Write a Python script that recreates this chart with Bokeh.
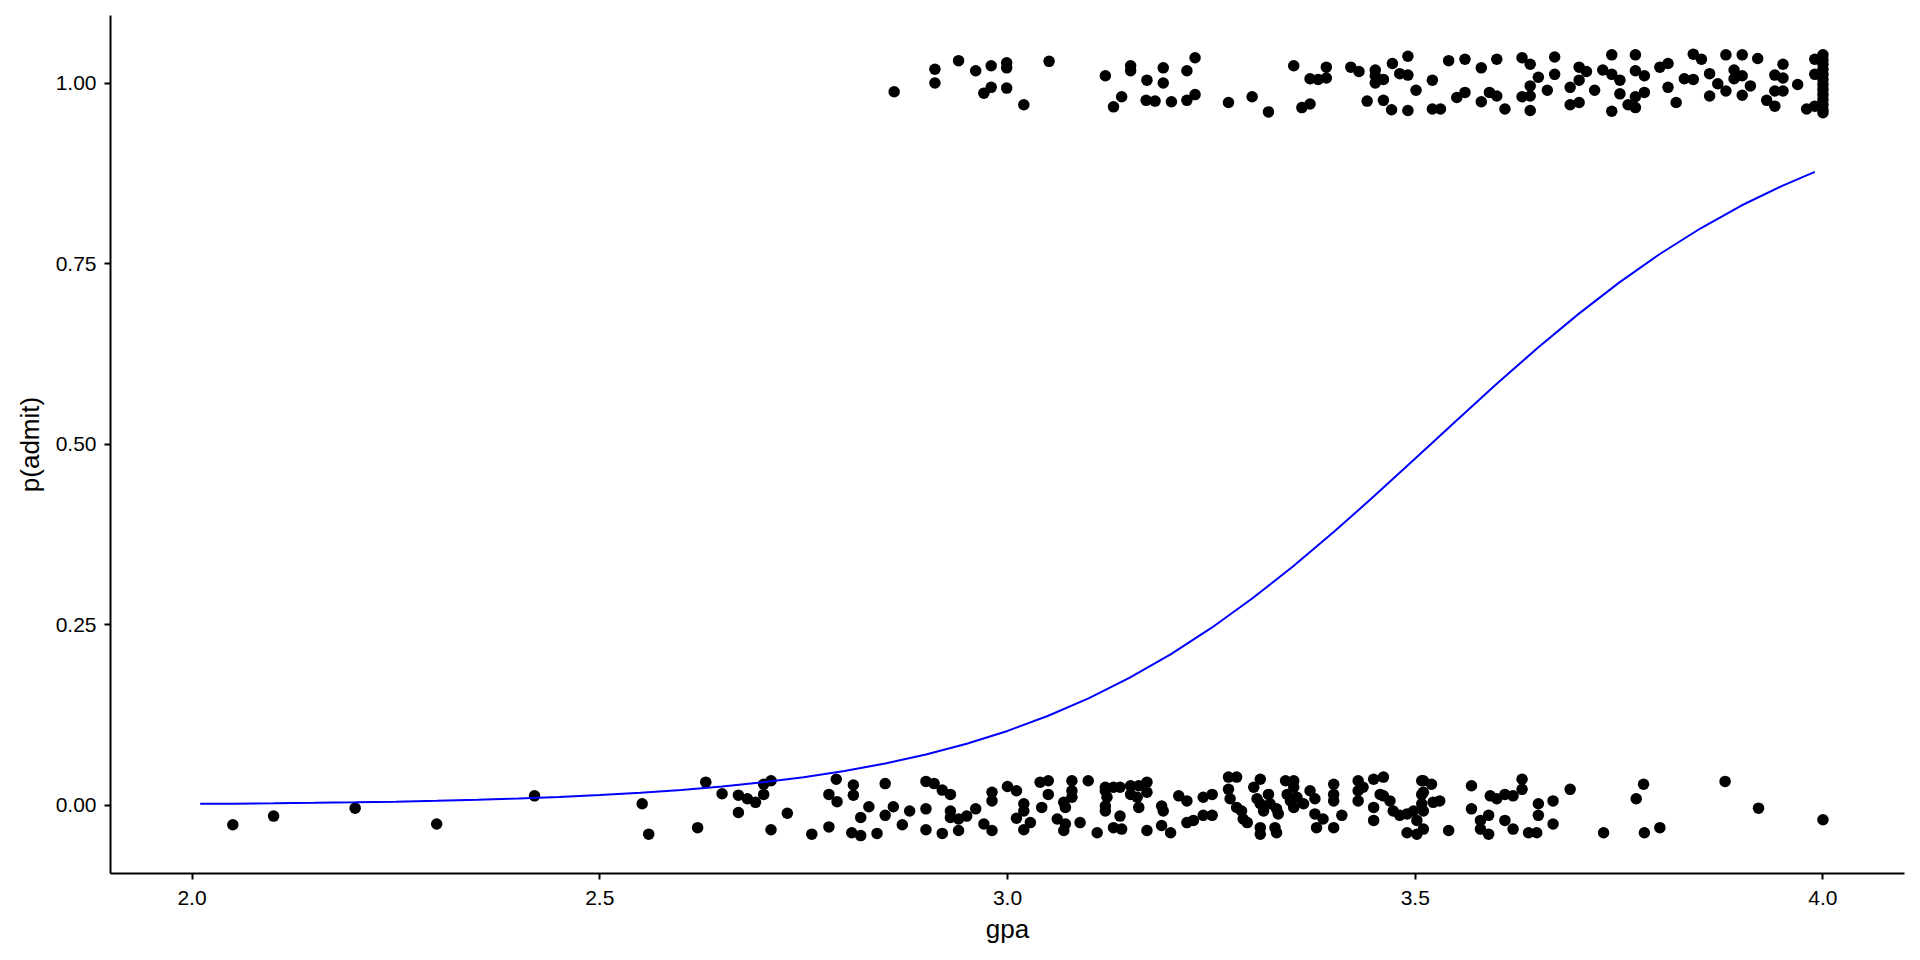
from bokeh.plotting import figure
from bokeh.models import FixedTicker, PrintfTickFormatter, Range1d
from bokeh.embed import file_html
from bokeh.resources import INLINE

# fitted curve
curve_gpa = [2.01, 2.05, 2.1, 2.15, 2.2, 2.25, 2.3, 2.35, 2.4, 2.45, 2.5, 2.55, 2.6, 2.65, 2.7, 2.75,
             2.8, 2.85, 2.9, 2.95, 3.0, 3.05, 3.1, 3.15, 3.2, 3.25, 3.3, 3.35, 3.4, 3.45, 3.5,
             3.55, 3.6, 3.65, 3.7, 3.75, 3.8, 3.85, 3.9, 3.95, 3.99]
curve_p = [0.002, 0.0022, 0.0027, 0.0033, 0.0041, 0.0050, 0.0062, 0.0076, 0.0093, 0.0115, 0.0141,
           0.0173, 0.0212, 0.0260, 0.0318, 0.0389, 0.0475, 0.0578, 0.0703, 0.0852, 0.1029, 0.1239,
           0.1483, 0.1767, 0.2090, 0.2455, 0.2862, 0.3306, 0.3782, 0.4284, 0.4800, 0.5321, 0.5835,
           0.6331, 0.6800, 0.7236, 0.7633, 0.7989, 0.8304, 0.8577, 0.8769]

# admit = 0 (jittered)
gpa_no = [2.05, 2.10, 2.20, 2.30, 2.42, 2.552, 2.560,
          2.630, 2.620, 2.650, 2.670, 2.681, 2.691, 2.670, 2.701, 2.701, 2.710, 2.710, 2.730, 2.760,
          2.781, 2.790, 2.781, 2.791, 2.811, 2.811, 2.830, 2.820, 2.809, 2.820, 2.840, 2.850, 2.860,
          2.850, 2.871, 2.880, 2.900, 2.910, 2.920, 2.930, 2.900, 2.900, 2.920, 2.930, 2.930, 2.940,
          2.940, 2.950, 2.961, 2.971, 2.981, 2.981, 2.981, 3.000, 3.011, 3.020, 3.020, 3.011, 3.020,
          3.040, 3.050, 3.079, 3.099, 3.120, 3.130, 3.138, 3.151, 3.161, 3.171, 3.171, 3.271, 3.281,
          3.310, 3.341, 3.351, 3.400, 3.430, 3.449, 3.461, 3.508, 3.050, 3.069, 3.079, 3.079, 3.071,
          3.042, 3.028, 3.061, 3.071, 3.069, 3.089, 3.110, 3.120, 3.122, 3.120, 3.120, 3.130, 3.138,
          3.140, 3.151, 3.161, 3.159, 3.171, 3.189, 3.191, 3.189, 3.200, 3.210, 3.220, 3.220, 3.228,
          3.240, 3.251, 3.240, 3.251, 3.271, 3.273, 3.281, 3.287, 3.289, 3.294, 3.302, 3.306, 3.310,
          3.314, 3.310, 3.310, 3.320, 3.322, 3.330, 3.332, 3.328, 3.330, 3.343, 3.351, 3.347, 3.351,
          3.355, 3.363, 3.371, 3.377, 3.377, 3.379, 3.387, 3.400, 3.400, 3.400, 3.410, 3.430, 3.430,
          3.436, 3.449, 3.449, 3.457, 3.461, 3.469, 3.473, 3.481, 3.490, 3.498, 3.502, 3.490, 3.502,
          3.508, 3.508,
          3.510, 3.520, 3.510, 3.522, 3.530, 3.510, 3.510, 3.541, 3.569, 3.569, 3.592, 3.600, 3.610,
          3.620, 3.631, 3.631, 3.580, 3.590, 3.580, 3.590, 3.610, 3.620, 3.639, 3.649, 3.651, 3.651,
          3.669, 3.669, 3.690, 3.731, 3.780, 3.771, 3.781, 3.800, 3.880, 3.921, 4.000]
p_no = [-0.027, -0.015, -0.004, -0.026, 0.013, 0.002, -0.040,
        0.032, -0.031, 0.016, 0.014, 0.009, 0.004, -0.010, 0.015, 0.029, 0.034, -0.034, -0.011, -0.040,
        -0.030, 0.036, 0.015, 0.005, 0.028, 0.014, -0.002, -0.017, -0.038, -0.042, -0.039, 0.030, -0.002,
        -0.014, -0.027, -0.008, 0.033, 0.030, 0.021, 0.015, -0.005, -0.034, -0.039, -0.008, -0.017, -0.019,
        -0.035, -0.015, -0.005, -0.026, -0.035, 0.018, 0.006, 0.026, 0.020, 0.002, -0.008, -0.018, -0.034,
        0.032, 0.034, 0.034, 0.034, 0.025, 0.025, 0.025, 0.027, 0.027, 0.032, 0.018, 0.039, 0.039,
        0.036, 0.034, 0.034, 0.029, 0.034, 0.036, 0.039, 0.034, 0.015, 0.004, 0.020, 0.011, -0.003,
        -0.003, -0.024, -0.019, -0.026, -0.035, -0.024, -0.038, 0.020, 0.011, -0.001, -0.008, -0.031, -0.015,
        -0.033, 0.015, -0.003, 0.011, -0.035, -0.001, -0.008, -0.028, -0.038, 0.013, 0.006, -0.024, -0.021,
        0.011, 0.015, -0.014, -0.014, 0.022, 0.009, -0.003, -0.008, -0.019, -0.024, 0.025, 0.009, 0.002,
        -0.008, -0.031, -0.040, 0.015, 0.002, -0.005, -0.012, -0.031, -0.038, 0.015, 0.025, 0.006, -0.003,
        0.011, 0.002, 0.020, 0.009, -0.012, -0.031, -0.019, 0.015, 0.006, -0.031, -0.014, 0.020, 0.006,
        0.025, -0.003, -0.021, 0.015, 0.013, 0.006, -0.008, -0.014, -0.012, -0.008, -0.021, -0.038, -0.040,
        0.015, 0.002,
        0.034, 0.029, 0.018, 0.004, 0.006, -0.008, -0.033, -0.035, 0.027, -0.005, 0.013, 0.009, 0.015,
        0.013, 0.036, 0.022, -0.021, -0.014, -0.033, -0.040, -0.021, -0.033, -0.038, -0.038, 0.002, -0.014,
        0.006, -0.026, 0.022, -0.038, 0.029, 0.009, -0.038, -0.031, 0.033, -0.004, -0.020]

# admit = 1 (jittered)
gpa_yes = [2.861, 2.911, 2.911, 2.940, 2.961, 2.980, 2.999, 2.999, 2.971, 2.980, 2.999, 3.020, 3.051,
           3.120, 3.151, 3.151, 3.171, 3.191, 3.191, 3.220, 3.230, 3.140, 3.130, 3.170, 3.181, 3.201,
           3.220, 3.230,
           3.271, 3.300, 3.320, 3.351, 3.361, 3.371, 3.371, 3.381, 3.391, 3.391, 3.421, 3.431, 3.441,
           3.451, 3.451, 3.451, 3.461, 3.461, 3.472, 3.471, 3.481, 3.491, 3.491, 3.491, 3.501, 3.521,
           3.521, 3.531, 3.541, 3.551, 3.561, 3.561, 3.581, 3.581, 3.591, 3.600, 3.600, 3.610, 3.631,
           3.641, 3.651, 3.641, 3.631, 3.641, 3.641, 3.662, 3.671, 3.671,
           3.701, 3.710, 3.701, 3.690, 3.690, 3.701, 3.720, 3.730, 3.741, 3.741, 3.751, 3.751, 3.741,
           3.761, 3.770, 3.770, 3.770, 3.781, 3.781, 3.770, 3.800, 3.810, 3.810, 3.820, 3.830, 3.841,
           3.841, 3.851, 3.861, 3.861, 3.871, 3.881, 3.881, 3.891, 3.891, 3.901, 3.901, 3.901, 3.911,
           3.920, 3.931, 3.941, 3.941, 3.941, 3.951, 3.951, 3.951, 3.969, 3.980, 3.990, 3.990, 3.990,
           4.0, 4.0, 4.0, 4.0, 4.0, 4.0, 4.0, 4.0, 4.0, 4.0, 4.0, 4.0, 4.0]
p_yes = [0.988, 1.019, 1.000, 1.031, 1.017, 1.024, 1.028, 1.021, 0.986, 0.994, 0.993, 0.970, 1.030,
         1.010, 1.024, 1.017, 1.004, 1.021, 1.000, 1.017, 1.035, 0.981, 0.967, 0.976, 0.975, 0.974,
         0.976, 0.984,
         0.973, 0.981, 0.960, 1.024, 0.966, 0.971, 1.006, 1.005, 1.022, 1.007, 1.022, 1.016, 0.975,
         1.018, 1.010, 1.000, 1.005, 0.976, 1.027, 0.963, 1.013, 1.037, 1.011, 0.962, 0.990, 1.004,
         0.964, 0.964, 1.031, 0.980, 1.033, 0.987, 1.021, 0.974, 0.987, 1.033, 0.982, 0.964, 1.035,
         1.026, 1.008, 0.996, 0.981, 0.982, 0.962, 0.990, 1.036, 1.012,
         1.022, 1.016, 1.004, 0.994, 0.970, 0.973, 0.990, 1.018, 1.039, 1.012, 1.004, 0.985, 0.961,
         0.970, 0.981, 1.039, 1.017, 1.010, 0.987, 0.966, 1.022, 1.027, 0.994, 0.973, 1.006, 1.005,
         1.040, 1.033, 1.013, 0.982, 0.999, 1.039, 0.989, 1.018, 1.006, 1.010, 1.039, 0.983, 0.996,
         1.034, 0.976, 0.989, 0.968, 1.011, 1.026, 1.007, 0.989, 0.998, 0.964, 0.968, 1.033, 1.012,
         1.039, 1.032, 1.026, 1.019, 1.012, 1.005, 0.998, 0.991, 0.984, 0.977, 0.970, 0.963, 0.959]

x_ticks = [2.0, 2.5, 3.0, 3.5, 4.0]
y_ticks = [0.0, 0.25, 0.5, 0.75, 1.0]

p = figure(frame_width=1794, frame_height=858,
           min_border_left=110, min_border_right=8, min_border_top=15, min_border_bottom=72,
           x_range=Range1d(1.9, 4.1), y_range=Range1d(-0.0945, 1.0935),
           output_backend="svg", toolbar_location=None,
           x_axis_label="gpa", y_axis_label="p(admit)")

p.scatter(gpa_no, p_no, size=11.5, color="black", line_color=None)
p.scatter(gpa_yes, p_yes, size=11.5, color="black", line_color=None)
p.line(curve_gpa, curve_p, line_color="#0000FF", line_width=2)

p.xgrid.visible = False
p.ygrid.visible = False
p.outline_line_color = None
p.background_fill_color = "white"
p.border_fill_color = "white"

p.xaxis.ticker = FixedTicker(ticks=x_ticks)
p.yaxis.ticker = FixedTicker(ticks=y_ticks)
p.xaxis.formatter = PrintfTickFormatter(format="%.1f")
p.yaxis.formatter = PrintfTickFormatter(format="%.2f")

for ax in (p.xaxis, p.yaxis):
    ax.axis_line_color = "black"
    ax.axis_line_width = 2
    ax.major_tick_line_color = "black"
    ax.major_tick_line_width = 2
    ax.major_tick_out = 6
    ax.major_tick_in = 0
    ax.minor_tick_line_color = None
    ax.major_label_text_font = "Liberation Sans"
    ax.major_label_text_font_size = "21px"
    ax.major_label_text_color = "black"
    ax.axis_label_text_font = "Liberation Sans"
    ax.axis_label_text_font_size = "26px"
    ax.axis_label_text_font_style = "normal"
    ax.axis_label_text_color = "black"

p.xaxis.major_label_standoff = 11
p.yaxis.major_label_standoff = 8
p.xaxis.axis_label_standoff = 6
p.yaxis.axis_label_standoff = 8

open("out.html", "w").write(file_html(p, INLINE))
